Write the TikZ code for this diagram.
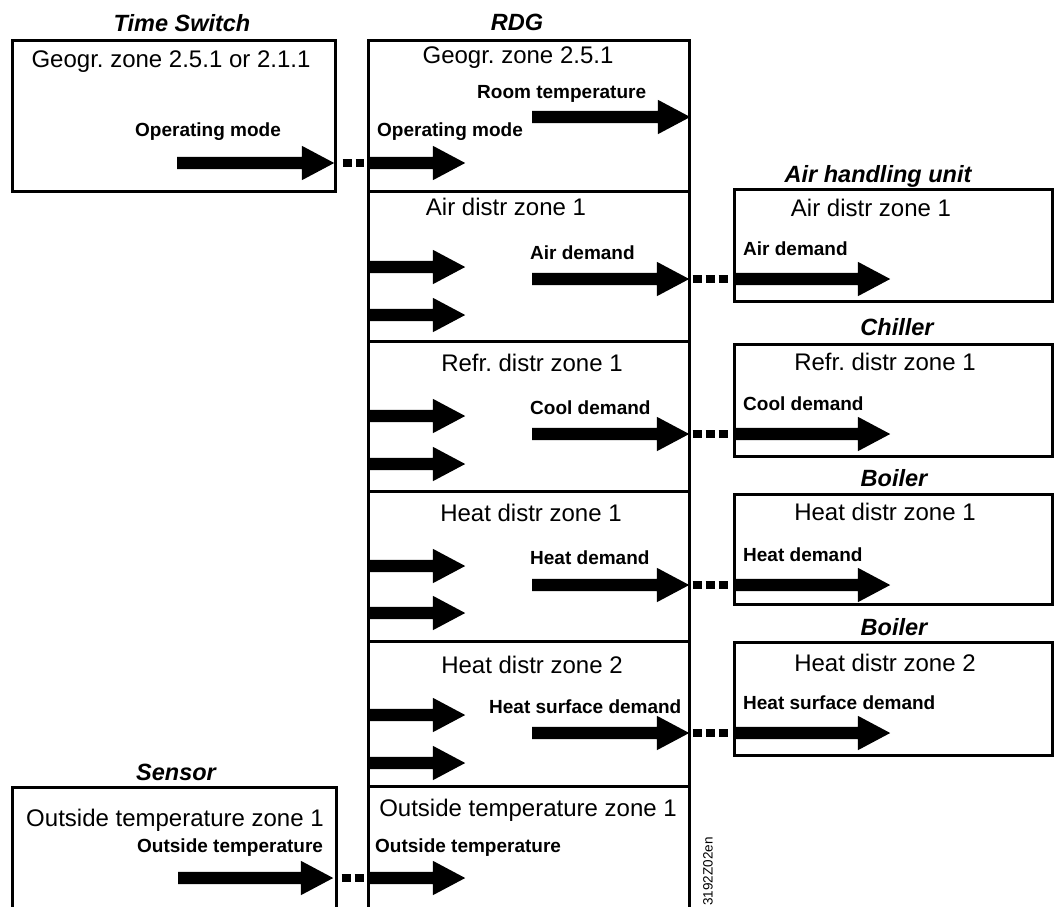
\documentclass[tikz,border=0pt]{standalone}
\usepackage{fontspec}
\setmainfont{Liberation Sans}
\usetikzlibrary{shapes.arrows, positioning}
\frenchspacing

\begin{document}
\begin{tikzpicture}[
        x=1pt, y=-1pt,
        unit/.style={
            rectangle, draw=black, line width=3pt, fill=none,
            inner sep=0pt, outer sep=0pt
        },
        devname/.style={
            font=\fontsize{23.5}{28}\selectfont\bfseries\itshape
        },
        zone/.style={
            font=\fontsize{24}{28}\selectfont
        },
        sigtext/.style={
            font=\fontsize{19}{22}\selectfont\bfseries, anchor=west, inner sep=0pt
        },
        sig/.style={
            single arrow, fill=black, inner xsep=0pt, inner ysep=6pt,
            single arrow head extend=11pt, single arrow tip angle=56,
            minimum height=#1, anchor=tail
        },
        sig/.default=157pt,
        dotlink/.style={
            line width=8pt, dash pattern=on 9pt off 4pt
        }
    ]
        \useasboundingbox (0,0) rectangle (1057,906);
        \clip (0,0) rectangle (1057,906);

        % ----------------------------------------------------
        % LEFT: Time Switch and Sensor
        % ----------------------------------------------------
        \node[unit, minimum width=323pt, minimum height=151pt] (ts) at (173.5,116) {};
        \node[devname] (tstitle) at (182,23) {Time Switch};
        \node[zone] (tszone) at (171,62) {Geogr. zone 2.5.1 or 2.1.1};
        \node[sigtext] (tsoptext) at (135,132) {Operating mode};
        \node[sig] (tsop) at (177,163) {};

        \node[unit, minimum width=324pt, minimum height=153pt, anchor=north] (sensor) at (174,787) {};
        \node[devname] (sensortitle) at (176,772) {Sensor};
        \node[zone] (sensorzone) at (175,820) {Outside temperature zone 1};
        \node[sigtext] (sensorottext) at (137,848) {Outside temperature};
        \node[sig=155pt] (sensorot) at (178,878) {};

        % ----------------------------------------------------
        % CENTER: RDG, stacked zones
        % ----------------------------------------------------
        \node[unit, minimum width=320.5pt, minimum height=151pt] (rdggeo) at (528.75,116) {};
        \node[unit, minimum width=320.5pt, minimum height=150pt, below=0pt of rdggeo] (rdgair) {};
        \node[unit, minimum width=320.5pt, minimum height=150pt, below=0pt of rdgair] (rdgrefr) {};
        \node[unit, minimum width=320.5pt, minimum height=150pt, below=0pt of rdgrefr] (rdgheat1) {};
        \node[unit, minimum width=320.5pt, minimum height=145pt, below=0pt of rdgheat1] (rdgheat2) {};
        \node[unit, minimum width=320.5pt, minimum height=160pt, below=0pt of rdgheat2] (rdgout) {};
        \node[devname] (rdgtitle) at (517,22) {RDG};

        \node[zone] (rdggeozone) at (518,58) {Geogr. zone 2.5.1};
        \node[sigtext] (roomtext) at (477,94) {Room temperature};
        \node[sig=158pt] (room) at (532,117) {};
        \node[sigtext] (rdgoptext) at (377,132) {Operating mode};
        \node[sig=98pt] (rdgop) at (367,163) {};

        \node[zone] (rdgairzone) at (506,207) {Air distr zone 1};
        \node[sigtext] (rdgairtext) at (530,253) {Air demand};
        \node[sig] (rdgairout) at (532,279) {};
        \node[sig=98pt] (rdgairina) at (367,267) {};
        \node[sig=98pt] (rdgairinb) at (367,315) {};

        \node[zone] (rdgrefrzone) at (532,363) {Refr. distr zone 1};
        \node[sigtext] (rdgrefrtext) at (530,408) {Cool demand};
        \node[sig] (rdgrefrout) at (532,434) {};
        \node[sig=98pt] (rdgrefrina) at (367,416) {};
        \node[sig=98pt] (rdgrefrinb) at (367,464) {};

        \node[zone] (rdgheatazone) at (531,513) {Heat distr zone 1};
        \node[sigtext] (rdgheatatext) at (530,558) {Heat demand};
        \node[sig] (rdgheataout) at (532,585) {};
        \node[sig=98pt] (rdgheataina) at (367,566) {};
        \node[sig=98pt] (rdgheatainb) at (367,613) {};

        \node[zone] (rdgheatbzone) at (532,665) {Heat distr zone 2};
        \node[sigtext] (rdgheatbtext) at (489,707) {Heat surface demand};
        \node[sig] (rdgheatbout) at (532,733) {};
        \node[sig=98pt] (rdgheatbina) at (367,715) {};
        \node[sig=98pt] (rdgheatbinb) at (367,763) {};

        \node[zone] (rdgoutzone) at (528,810) {Outside temperature zone 1};
        \node[sigtext] (rdgottext) at (375,848) {Outside temperature};
        \node[sig=98pt] (rdgot) at (367,878) {};

        \node[rotate=90, anchor=east, font=\fontsize{13.5}{15}\selectfont, inner sep=0pt] (code) at (708,837) {3192Z02en};

        % ----------------------------------------------------
        % RIGHT: plant units
        % ----------------------------------------------------
        \node[unit, minimum width=318pt, minimum height=112pt] (ahu) at (893,245.5) {};
        \node[devname] (ahutitle) at (878,176) {Air handling unit};
        \node[zone] (ahuzone) at (871,208) {Air distr zone 1};
        \node[sigtext] (ahutext) at (743,249) {Air demand};
        \node[sig=156pt] (ahuin) at (734,279) {};

        \node[unit, minimum width=318pt, minimum height=112pt] (chiller) at (893,400) {};
        \node[devname] (chillertitle) at (897,327) {Chiller};
        \node[zone] (chillerzone) at (885,362) {Refr. distr zone 1};
        \node[sigtext] (chillertext) at (743,404) {Cool demand};
        \node[sig=156pt] (chillerin) at (734,434) {};

        \node[unit, minimum width=318pt, minimum height=110pt] (boilera) at (893,549.5) {};
        \node[devname] (boileratitle) at (894,478) {Boiler};
        \node[zone] (boilerazone) at (885,512) {Heat distr zone 1};
        \node[sigtext] (boileratext) at (743,555) {Heat demand};
        \node[sig=156pt] (boilerain) at (734,585) {};

        \node[unit, minimum width=318pt, minimum height=113pt] (boilerb) at (893,699) {};
        \node[devname] (boilerbtitle) at (894,627) {Boiler};
        \node[zone] (boilerbzone) at (885,663) {Heat distr zone 2};
        \node[sigtext] (boilerbtext) at (743,703) {Heat surface demand};
        \node[sig=156pt] (boilerbin) at (734,733) {};

        % Bus links
        \draw[dotlink] ([xshift=8pt]tsop.tip) -- ([xshift=-3pt]rdgop.tail);
        \draw[dotlink] ([xshift=8pt]sensorot.tip) -- ([xshift=-3pt]rdgot.tail);
        \draw[dotlink] ([xshift=3pt]rdgairout.tip) -- ([xshift=-4pt]ahuin.tail);
        \draw[dotlink] ([xshift=3pt]rdgrefrout.tip) -- ([xshift=-4pt]chillerin.tail);
        \draw[dotlink] ([xshift=3pt]rdgheataout.tip) -- ([xshift=-4pt]boilerain.tail);
        \draw[dotlink] ([xshift=3pt]rdgheatbout.tip) -- ([xshift=-4pt]boilerbin.tail);

    \end{tikzpicture}
\end{document}
